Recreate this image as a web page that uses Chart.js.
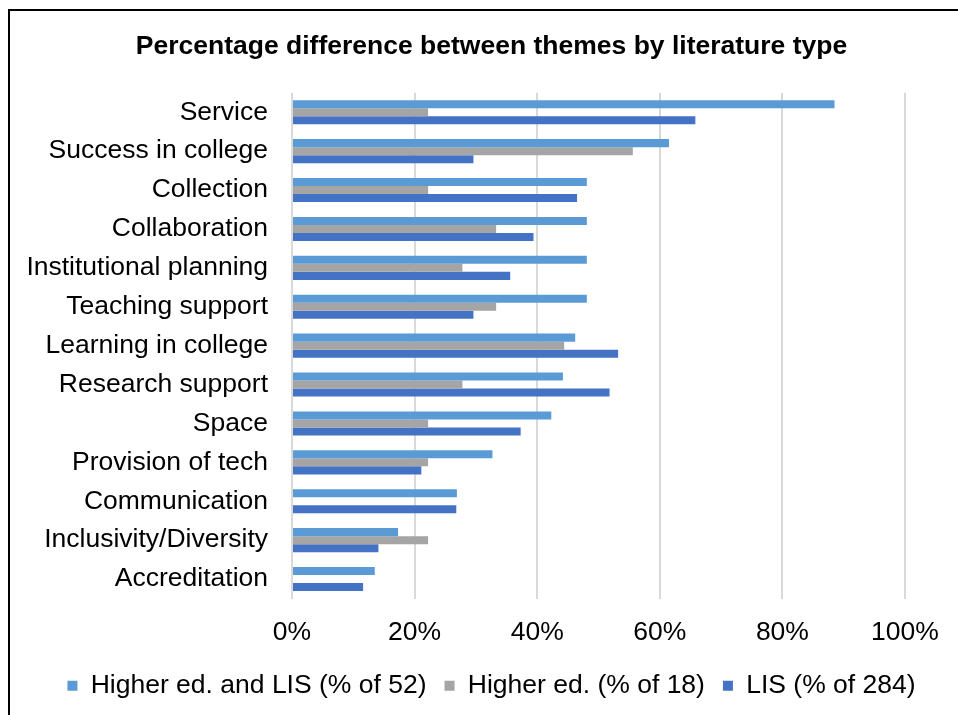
<!DOCTYPE html>
<html>
<head>
<meta charset="utf-8">
<script src="https://cdn.jsdelivr.net/npm/chart.js@4/dist/chart.umd.min.js"></script>
<style>
  html, body { margin: 0; padding: 0; background: #fff; overflow: hidden; width: 958px; height: 715px; }
  #box { position: absolute; left: 8px; top: 9px; width: 963px; height: 720px; border: 2px solid #000; background: #fff; }
  canvas { display: block; }
</style>
</head>
<body>
<div id="box"><canvas id="c" width="963" height="720"></canvas></div>
<script>
const categories = ["Service", "Success in college", "Collection", "Collaboration", "Institutional planning", "Teaching support", "Learning in college", "Research support", "Space", "Provision of tech", "Communication", "Inclusivity/Diversity", "Accreditation"];
const seriesNames = ["Higher ed. and LIS (% of 52)", "Higher ed. (% of 18)", "LIS (% of 284)"];
const higherEdAndLIS = [88.5, 61.5, 48.1, 48.1, 48.1, 48.1, 46.2, 44.2, 42.3, 32.7, 26.9, 17.3, 13.5];
const higherEd = [22.2, 55.6, 22.2, 33.3, 27.8, 33.3, 44.4, 27.8, 22.2, 22.2, 0, 22.2, 0];
const lis = [65.8, 29.6, 46.5, 39.4, 35.6, 29.6, 53.2, 51.8, 37.3, 21.1, 26.8, 14.1, 11.6];
const xTicks = [0, 20, 40, 60, 80, 100];
const titleText = "Percentage difference between themes by literature type";

const FONT = "'Liberation Sans', Arial, sans-serif";
const SIZE = 26.5;
const colors = ["#5B9BD5", "#A5A5A5", "#4472C4"];

new Chart(document.getElementById("c"), {
  type: "bar",
  data: {
    labels: categories,
    datasets: [
      { label: seriesNames[0], data: higherEdAndLIS, backgroundColor: colors[0] },
      { label: seriesNames[1], data: higherEd, backgroundColor: colors[1] },
      { label: seriesNames[2], data: lis, backgroundColor: colors[2] }
    ]
  },
  options: {
    indexAxis: "y",
    responsive: false,
    animation: false,
    devicePixelRatio: 1,
    datasets: { bar: { categoryPercentage: 0.62, barPercentage: 1.0 } },
    layout: { padding: { left: 0, right: 0, top: 0, bottom: 22 } },
    plugins: {
      title: {
        display: true,
        text: titleText,
        color: "#000",
        font: { family: FONT, size: SIZE, weight: "bold", lineHeight: 1.2 },
        padding: { top: 20, bottom: 30 }
      },
      legend: {
        position: "bottom",
        labels: {
          color: "#000",
          font: { family: FONT, size: SIZE },
          boxWidth: 10,
          boxHeight: 10,
          padding: 18
        }
      },
      tooltip: { enabled: false }
    },
    scales: {
      x: {
        min: 0,
        max: 100,
        afterBuildTicks: (s) => { s.ticks = xTicks.map(v => ({ value: v })); },
        afterFit: (s) => { s.height = 56; },
        grid: { color: "#D9D9D9", lineWidth: 2, drawTicks: false },
        border: { display: false },
        ticks: {
          color: "#000",
          font: { family: FONT, size: SIZE },
          padding: 18,
          callback: (v) => v + "%"
        }
      },
      y: {
        afterFit: (s) => { s.width = 282; },
        grid: { display: false, drawTicks: false },
        border: { display: false },
        ticks: {
          color: "#000",
          font: { family: FONT, size: SIZE },
          padding: 24,
          autoSkip: false
        }
      },
      yRightSpace: {
        type: "linear",
        position: "right",
        display: true,
        afterFit: (s) => { s.width = 68; },
        grid: { display: false, drawTicks: false },
        border: { display: false },
        ticks: { display: false }
      }
    }
  }
});
</script>
</body>
</html>
